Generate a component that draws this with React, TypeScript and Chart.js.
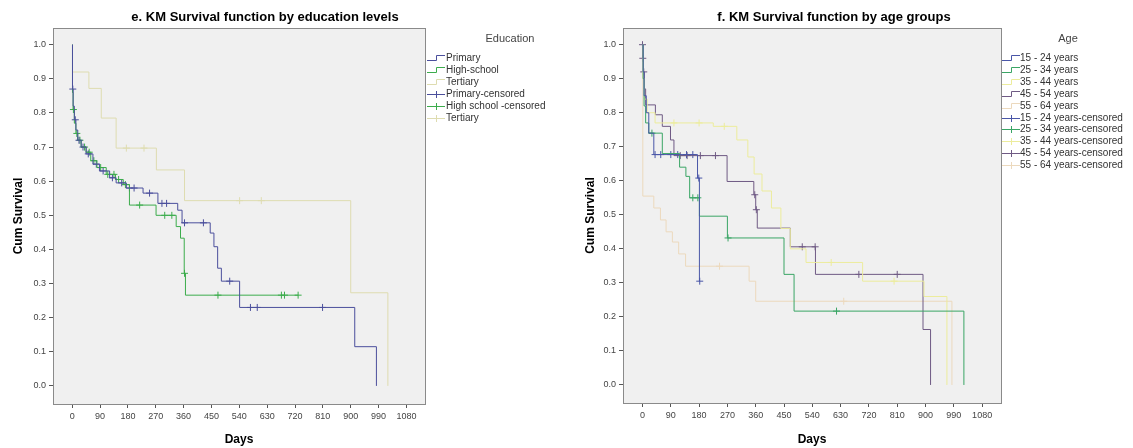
import React, { useEffect, useRef } from "react";
import { Chart, registerables } from "chart.js";
Chart.register(...registerables);

const FONT = '"Liberation Sans", Arial, sans-serif';

// ---- axes ----
const X_TICKS = [0, 90, 180, 270, 360, 450, 540, 630, 720, 810, 900, 990, 1080];
const Y_TICKS = [0, 0.1, 0.2, 0.3, 0.4, 0.5, 0.6, 0.7, 0.8, 0.9, 1.0];
const X_MIN = -62;
const X_MAX = 1140;
const Y_MIN = -0.053;
const Y_MAX = 1.049;

// ---- e. education levels ----
const primaryDays = [0, 1, 3, 7, 12, 18, 29, 45, 67, 88, 121, 142, 175, 229, 277, 341, 355, 446, 458, 470, 482, 541, 913, 983];
const primarySurv = [1.0, 0.87, 0.82, 0.78, 0.75, 0.72, 0.70, 0.68, 0.65, 0.63, 0.61, 0.595, 0.58, 0.565, 0.535, 0.515, 0.478, 0.448, 0.408, 0.345, 0.307, 0.23, 0.115, 0.0];
const primaryCensored = [2, 10, 22, 35, 52, 78, 100, 130, 160, 185, 200, 250, 290, 305, 363, 424, 509, 576, 598, 809];

const highDays = [0, 1, 3, 7, 12, 18, 29, 45, 60, 80, 110, 140, 165, 185, 271, 336, 350, 362, 366, 730];
const highSurv = [1.0, 0.86, 0.81, 0.77, 0.74, 0.72, 0.70, 0.685, 0.66, 0.64, 0.62, 0.605, 0.59, 0.53, 0.50, 0.467, 0.433, 0.33, 0.266, 0.266];
const highCensored = [4, 15, 25, 40, 55, 70, 92, 115, 135, 150, 172, 218, 299, 322, 363, 471, 676, 686, 730];

const tertDays = [0, 1, 54, 94, 142, 272, 363, 900, 1020];
const tertSurv = [1.0, 0.92, 0.872, 0.785, 0.697, 0.633, 0.543, 0.273, 0.0];
const tertCensored = [175, 232, 541, 611];

const eduLabels = ["Primary", "High-school", "Tertiary"];
const eduCensLabels = ["Primary-censored", "High school -censored", "Tertiary"];
const eduColors = ["#4b4f9c", "#3cac4c", "#dedcb0"];

// ---- f. age groups ----
const a1524Days = [0, 2, 5, 12, 20, 36, 175, 181, 182];
const a1524Surv = [1.0, 0.92, 0.85, 0.80, 0.74, 0.677, 0.608, 0.305, 0.305];
const a1524Censored = [40, 58, 90, 112, 140, 160, 179, 182];

const a2534Days = [0, 2, 5, 10, 20, 63, 118, 138, 150, 181, 270, 450, 482, 1022];
const a2534Surv = [1.0, 0.90, 0.82, 0.77, 0.74, 0.68, 0.64, 0.613, 0.55, 0.496, 0.432, 0.325, 0.217, 0.0];
const a2534Censored = [30, 160, 176, 272, 617];

const a3544Days = [0, 2, 6, 15, 40, 225, 300, 335, 355, 380, 410, 440, 470, 520, 700, 895, 968];
const a3544Surv = [1.0, 0.90, 0.84, 0.80, 0.77, 0.76, 0.72, 0.67, 0.62, 0.57, 0.52, 0.46, 0.40, 0.36, 0.305, 0.26, 0.0];
const a3544Censored = [100, 180, 260, 600, 800];

const a4554Days = [0, 1, 3, 6, 10, 41, 63, 89, 100, 269, 354, 360, 365, 470, 550, 892, 916];
const a4554Surv = [1.0, 0.96, 0.92, 0.87, 0.823, 0.794, 0.76, 0.72, 0.674, 0.598, 0.559, 0.515, 0.461, 0.406, 0.325, 0.163, 0.0];
const a4554Censored = [0, 1, 4, 120, 142, 184, 232, 357, 362, 508, 549, 688, 810];

const a5564Days = [0, 1, 36, 57, 75, 95, 115, 137, 339, 360, 984];
const a5564Surv = [1.0, 0.555, 0.52, 0.485, 0.45, 0.42, 0.385, 0.349, 0.305, 0.246, 0.0];
const a5564Censored = [245, 640];

const ageLabels = ["15 - 24 years", "25 - 34 years", "35 - 44 years", "45 - 54 years", "55 - 64 years"];
const ageCensLabels = ["15 - 24 years-censored", "25 - 34 years-censored", "35 - 44 years-censored", "45 - 54 years-censored", "55 - 64 years-censored"];
const ageColors = ["#4a57a8", "#3aa565", "#ecec9c", "#6f5a84", "#ecd9bd"];

type Series = { label: string; censLabel: string; color: string; days: number[]; surv: number[]; cens: number[] };

function survAt(days: number[], surv: number[], t: number) {
  let v = surv[0];
  for (let i = 0; i < days.length; i++) if (days[i] <= t) v = surv[i];
  return v;
}

const panelPlugin = {
  id: "panel",
  beforeDraw(chart: any) {
    const { ctx, chartArea: a } = chart;
    ctx.save();
    ctx.fillStyle = "#f0f0f0";
    ctx.fillRect(a.left, a.top, a.right - a.left, a.bottom - a.top);
    ctx.restore();
  },
  afterDraw(chart: any, _args: any, o: any) {
    const { ctx, chartArea: a } = chart;
    ctx.save();
    ctx.strokeStyle = "#8a8a8a";
    ctx.lineWidth = 1;
    ctx.strokeRect(Math.round(a.left) + 0.5, Math.round(a.top) + 0.5, Math.round(a.right - a.left), Math.round(a.bottom - a.top));
    // title
    ctx.fillStyle = "#000";
    ctx.font = "bold 13px " + FONT;
    ctx.textAlign = "center";
    ctx.textBaseline = "middle";
    ctx.fillText(o.title, o.titleX, 17);
    // legend title
    ctx.fillStyle = "#444";
    ctx.font = "11px " + FONT;
    ctx.fillText(o.legendTitle, o.legendTitleX, 39);
    // legend items
    ctx.font = "10px " + FONT;
    ctx.textAlign = "left";
    const items: any[] = [];
    o.series.forEach((s: Series) => items.push({ text: s.label, color: s.color, kind: "step" }));
    o.series.forEach((s: Series) => items.push({ text: s.censLabel, color: s.color, kind: "cens" }));
    items.forEach((it, i) => {
      const y = Math.round(o.legendY0 + i * o.legendRow) + 0.5;
      const x0 = o.legendSymX;
      ctx.strokeStyle = it.color;
      ctx.lineWidth = 1;
      ctx.beginPath();
      if (it.kind === "step") {
        ctx.moveTo(x0, y + 2);
        ctx.lineTo(x0 + 9.5, y + 2);
        ctx.lineTo(x0 + 9.5, y - 3);
        ctx.lineTo(x0 + 18, y - 3);
      } else {
        ctx.moveTo(x0, y);
        ctx.lineTo(x0 + 18, y);
        ctx.moveTo(x0 + 9.5, y - 3.5);
        ctx.lineTo(x0 + 9.5, y + 3.5);
      }
      ctx.stroke();
      ctx.fillStyle = "#333";
      ctx.fillText(it.text, o.legendTextX, y);
    });
    ctx.restore();
  },
};

function buildConfig(p: any) {
  const series: Series[] = p.series;
  const datasets: any[] = [];
  series.forEach((s) => {
    datasets.push({
      label: s.label,
      data: s.days.map((d, i) => ({ x: d, y: s.surv[i] })),
      borderColor: s.color,
      backgroundColor: s.color,
      borderWidth: 1,
      pointRadius: 0,
      stepped: true,
      fill: false,
    });
  });
  series.forEach((s) => {
    datasets.push({
      label: s.censLabel,
      data: s.cens.map((d) => ({ x: d, y: survAt(s.days, s.surv, d) })),
      showLine: false,
      borderColor: s.color,
      backgroundColor: s.color,
      pointStyle: "cross",
      pointRadius: 3.5,
      pointBorderWidth: 1,
    });
  });
  return {
    type: "line",
    data: { datasets },
    plugins: [panelPlugin],
    options: {
      responsive: false,
      animation: false,
      events: [],
      layout: { padding: { left: 0, top: 28, right: p.padRight, bottom: 0 } },
      plugins: {
        legend: { display: false },
        tooltip: { enabled: false },
        panel: p,
      },
      scales: {
        x: {
          type: "linear",
          min: X_MIN,
          max: X_MAX,
          afterBuildTicks: (s: any) => {
            s.ticks = X_TICKS.map((v) => ({ value: v }));
          },
          afterFit: (s: any) => {
            s.height = p.xAxisHeight;
          },
          ticks: { font: { size: 9, family: FONT }, color: "#444", padding: 3, maxRotation: 0, autoSkip: false, callback: (v: any) => String(v) },
          grid: { drawOnChartArea: false, drawTicks: true, tickLength: 4, color: "#555" },
          border: { display: true, color: "#555" },
          title: { display: true, text: "Days", color: "#000", font: { size: 12, weight: "bold", family: FONT }, padding: { top: 0, bottom: 1 } },
        },
        y: {
          type: "linear",
          min: Y_MIN,
          max: Y_MAX,
          afterBuildTicks: (s: any) => {
            s.ticks = Y_TICKS.map((v) => ({ value: v }));
          },
          afterFit: (s: any) => {
            s.width = p.yAxisWidth;
          },
          ticks: { font: { size: 9, family: FONT }, color: "#444", padding: 3, autoSkip: false, callback: (v: any) => Number(v).toFixed(1) },
          grid: { drawOnChartArea: false, drawTicks: true, tickLength: 4, color: "#555" },
          border: { display: true, color: "#555" },
          title: { display: true, text: "Cum Survival", color: "#000", font: { size: 12, weight: "bold", family: FONT }, padding: { top: p.yTitlePad, bottom: 0 } },
        },
      },
    },
  };
}

const eduSeries: Series[] = [
  { label: eduLabels[0], censLabel: eduCensLabels[0], color: eduColors[0], days: primaryDays, surv: primarySurv, cens: primaryCensored },
  { label: eduLabels[1], censLabel: eduCensLabels[1], color: eduColors[1], days: highDays, surv: highSurv, cens: highCensored },
  { label: eduLabels[2], censLabel: eduCensLabels[2], color: eduColors[2], days: tertDays, surv: tertSurv, cens: tertCensored },
];

const ageSeries: Series[] = [
  { label: ageLabels[0], censLabel: ageCensLabels[0], color: ageColors[0], days: a1524Days, surv: a1524Surv, cens: a1524Censored },
  { label: ageLabels[1], censLabel: ageCensLabels[1], color: ageColors[1], days: a2534Days, surv: a2534Surv, cens: a2534Censored },
  { label: ageLabels[2], censLabel: ageCensLabels[2], color: ageColors[2], days: a3544Days, surv: a3544Surv, cens: a3544Censored },
  { label: ageLabels[3], censLabel: ageCensLabels[3], color: ageColors[3], days: a4554Days, surv: a4554Surv, cens: a4554Censored },
  { label: ageLabels[4], censLabel: ageCensLabels[4], color: ageColors[4], days: a5564Days, surv: a5564Surv, cens: a5564Censored },
];

const LEFT_W = 566;
const RIGHT_W = 567;
const H = 448;

export default function App() {
  const leftRef = useRef<HTMLCanvasElement>(null);
  const rightRef = useRef<HTMLCanvasElement>(null);
  useEffect(() => {
    const c1 = new Chart(
      leftRef.current as HTMLCanvasElement,
      buildConfig({
        series: eduSeries,
        title: "e. KM Survival function by education levels",
        titleX: 265,
        legendTitle: "Education",
        legendTitleX: 510,
        legendSymX: 427,
        legendTextX: 446,
        legendY0: 58,
        legendRow: 12,
        padRight: LEFT_W - 425,
        xAxisHeight: 44,
        yAxisWidth: 53,
        yTitlePad: 11,
      }) as any
    );
    const c2 = new Chart(
      rightRef.current as HTMLCanvasElement,
      buildConfig({
        series: ageSeries,
        title: "f. KM Survival function by age groups",
        titleX: 834 - 566,
        legendTitle: "Age",
        legendTitleX: 1068 - 566,
        legendSymX: 1002 - 566,
        legendTextX: 1020 - 566,
        legendY0: 58,
        legendRow: 11.9,
        padRight: RIGHT_W - (1001 - 566),
        xAxisHeight: 45,
        yAxisWidth: 623 - 566,
        yTitlePad: 17,
      }) as any
    );
    return () => {
      c1.destroy();
      c2.destroy();
    };
  }, []);
  return (
    <div style={{ position: "absolute", left: 0, top: 0, width: 1133, height: H, background: "#fff" }}>
      <canvas ref={leftRef} width={LEFT_W} height={H} style={{ position: "absolute", left: 0, top: 0, width: LEFT_W, height: H }} />
      <canvas ref={rightRef} width={RIGHT_W} height={H} style={{ position: "absolute", left: LEFT_W, top: 0, width: RIGHT_W, height: H }} />
    </div>
  );
}
